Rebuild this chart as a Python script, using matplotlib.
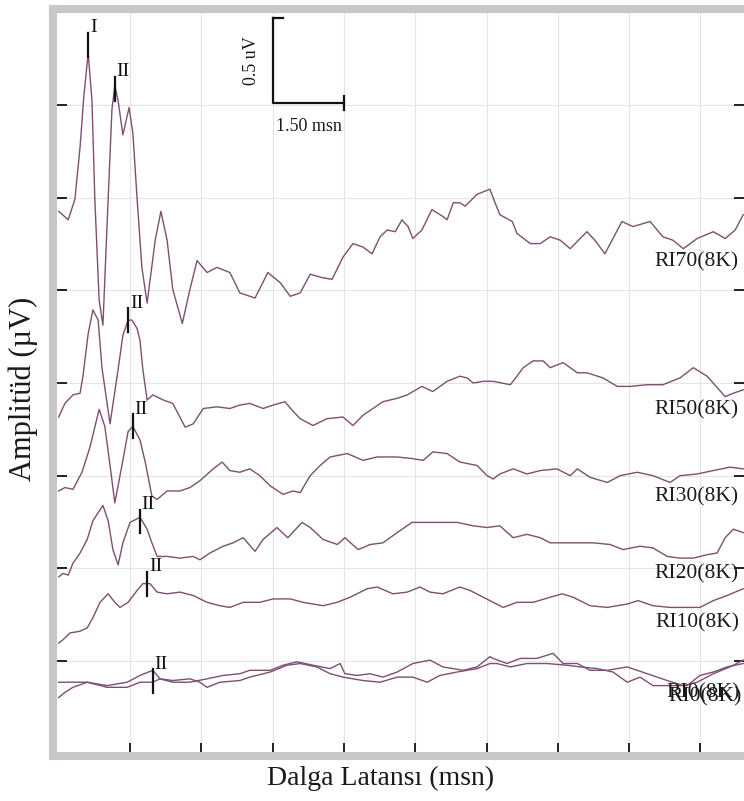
import numpy as np
import matplotlib
matplotlib.use('Agg')
import matplotlib.pyplot as plt

# ABR traces, latency in ms, amplitude in uV relative to each trace baseline
t_ri70 = [0.00, 0.20, 0.34, 0.45, 0.53, 0.62, 0.70, 0.76, 0.85, 0.93, 1.04, 1.12, 1.18, 1.25, 1.35,
          1.48, 1.56, 1.65, 1.75, 1.86, 2.03, 2.15, 2.28, 2.40, 2.60, 2.76, 2.91, 3.12, 3.33, 3.60,
          3.81, 4.13, 4.40, 4.66, 4.87, 5.08, 5.29, 5.54, 5.75, 5.98, 6.19, 6.40, 6.59, 6.76, 6.91,
          7.08, 7.22, 7.35, 7.45, 7.64, 7.85, 8.08, 8.17, 8.30, 8.44, 8.55, 8.80, 9.07, 9.18, 9.28,
          9.54, 9.64, 9.92, 10.13, 10.34, 10.55, 10.76, 11.11, 11.28, 11.49, 11.64, 11.85, 12.08,
          12.44, 12.71, 12.92, 13.14, 13.43, 13.77, 14.02, 14.23, 14.40]
a_ri70 = [-0.08, -0.13, -0.01, 0.30, 0.60, 0.85, 0.57, -0.01, -0.60, -0.75, -0.01, 0.52, 0.66, 0.57, 0.37,
          0.53, 0.38, -0.01, -0.41, -0.62, -0.25, -0.08, -0.25, -0.54, -0.74, -0.54, -0.37, -0.44, -0.41, -0.44,
          -0.56, -0.59, -0.44, -0.50, -0.58, -0.56, -0.45, -0.47, -0.48, -0.35, -0.27, -0.29, -0.33, -0.23, -0.19,
          -0.20, -0.13, -0.17, -0.24, -0.19, -0.07, -0.11, -0.13, -0.03, -0.03, -0.05, 0.02, 0.05, -0.03, -0.10,
          -0.14, -0.21, -0.27, -0.27, -0.23, -0.25, -0.30, -0.20, -0.25, -0.33, -0.25, -0.14, -0.17,
          -0.14, -0.23, -0.25, -0.30, -0.24, -0.20, -0.24, -0.19, -0.10]

t_ri50 = [0.00, 0.13, 0.30, 0.45, 0.51, 0.62, 0.72, 0.83, 0.91, 1.08, 1.25, 1.35, 1.46, 1.54, 1.65,
          1.71, 1.77, 1.86, 1.98, 2.20, 2.40, 2.66, 2.83, 3.04, 3.33, 3.60, 3.81, 4.02, 4.30, 4.51,
          4.76, 4.91, 5.08, 5.35, 5.64, 5.98, 6.19, 6.40, 6.61, 6.82, 7.12, 7.33, 7.64, 7.87, 8.17,
          8.44, 8.59, 8.72, 8.93, 9.14, 9.50, 9.64, 9.77, 9.98, 10.19, 10.34, 10.61, 10.91, 11.11,
          11.45, 11.75, 12.02, 12.38, 12.71, 13.07, 13.35, 13.64, 14.02, 14.19, 14.40]
a_ri50 = [-0.20, -0.12, -0.07, -0.06, 0.04, 0.29, 0.43, 0.37, 0.09, -0.24, 0.08, 0.28, 0.37, 0.37, 0.32,
          0.25, 0.08, -0.10, -0.07, -0.10, -0.12, -0.26, -0.24, -0.15, -0.14, -0.15, -0.13, -0.12, -0.15, -0.13,
          -0.11, -0.16, -0.21, -0.25, -0.21, -0.20, -0.25, -0.19, -0.15, -0.11, -0.09, -0.07, -0.02, -0.05, 0.01,
          0.04, 0.03, 0.00, 0.01, 0.01, -0.01, 0.04, 0.09, 0.13, 0.13, 0.09, 0.12, 0.06, 0.06,
          0.03, -0.02, -0.02, -0.01, -0.01, 0.03, 0.09, 0.04, -0.08, -0.06, -0.04]

t_ri30 = [0.00, 0.13, 0.30, 0.49, 0.66, 0.85, 0.97, 1.08, 1.18, 1.33, 1.46, 1.56, 1.71, 1.82, 1.96,
          2.07, 2.28, 2.55, 2.76, 2.97, 3.25, 3.44, 3.60, 3.81, 4.02, 4.23, 4.45, 4.72, 4.93, 5.08,
          5.29, 5.50, 5.71, 6.07, 6.40, 6.70, 7.12, 7.45, 7.67, 7.87, 8.17, 8.44, 8.80, 9.01, 9.14,
          9.28, 9.56, 9.85, 10.13, 10.48, 10.76, 10.91, 11.18, 11.54, 11.81, 12.17, 12.50, 12.86,
          13.07, 13.43, 13.77, 14.12, 14.40]
a_ri30 = [-0.09, -0.07, -0.08, 0.02, 0.17, 0.39, 0.29, 0.06, -0.16, 0.06, 0.26, 0.29, 0.21, 0.08, -0.12,
          -0.14, -0.09, -0.09, -0.07, -0.03, 0.04, 0.08, 0.03, 0.02, 0.04, 0.00, -0.06, -0.11, -0.09, -0.10,
          0.00, 0.06, 0.11, 0.13, 0.09, 0.11, 0.11, 0.10, 0.09, 0.14, 0.13, 0.08, 0.06, 0.00, -0.02,
          0.01, 0.04, 0.01, 0.03, 0.04, 0.00, 0.04, -0.01, -0.04, 0.00, 0.02, 0.00, -0.04,
          0.00, 0.01, 0.03, 0.05, 0.04]

t_ri20 = [0.00, 0.09, 0.20, 0.30, 0.45, 0.60, 0.72, 0.93, 1.04, 1.14, 1.25, 1.35, 1.50, 1.71, 1.86,
          1.96, 2.07, 2.28, 2.55, 2.83, 2.97, 3.18, 3.46, 3.67, 3.88, 4.13, 4.30, 4.59, 4.82, 5.12,
          5.29, 5.56, 5.86, 6.02, 6.30, 6.55, 6.82, 7.12, 7.43, 7.67, 7.96, 8.38, 8.72, 9.01, 9.28,
          9.56, 9.85, 10.13, 10.34, 10.61, 10.91, 11.24, 11.60, 11.87, 12.23, 12.50, 12.80, 13.07,
          13.35, 13.64, 13.85, 14.02, 14.19, 14.40]
a_ri20 = [-0.05, -0.03, -0.04, 0.03, 0.09, 0.17, 0.28, 0.37, 0.28, 0.11, 0.02, 0.15, 0.27, 0.30, 0.23,
          0.15, 0.07, 0.07, 0.06, 0.07, 0.05, 0.09, 0.13, 0.15, 0.18, 0.10, 0.17, 0.24, 0.18, 0.27,
          0.24, 0.17, 0.14, 0.18, 0.11, 0.14, 0.15, 0.21, 0.27, 0.27, 0.27, 0.27, 0.25, 0.24, 0.25,
          0.18, 0.20, 0.18, 0.15, 0.15, 0.15, 0.15, 0.14, 0.11, 0.13, 0.12, 0.07, 0.06,
          0.06, 0.08, 0.09, 0.18, 0.23, 0.21]

t_ri10 = [0.00, 0.09, 0.24, 0.45, 0.60, 0.72, 0.87, 1.04, 1.18, 1.29, 1.46, 1.65, 1.77, 1.92, 2.07,
          2.28, 2.55, 2.83, 3.12, 3.39, 3.60, 3.88, 4.23, 4.51, 4.87, 5.14, 5.56, 5.86, 6.13, 6.49,
          6.70, 7.03, 7.33, 7.60, 7.81, 8.08, 8.44, 8.65, 8.93, 9.14, 9.35, 9.64, 9.98, 10.34, 10.59,
          10.82, 11.18, 11.54, 11.96, 12.19, 12.50, 12.86, 13.22, 13.49, 13.77, 14.06, 14.40]
a_ri10 = [-0.14, -0.12, -0.08, -0.07, -0.05, 0.01, 0.10, 0.15, 0.10, 0.07, 0.10, 0.17, 0.21, 0.21, 0.16,
          0.15, 0.16, 0.14, 0.10, 0.08, 0.07, 0.10, 0.10, 0.12, 0.12, 0.10, 0.08, 0.10, 0.13, 0.18,
          0.19, 0.15, 0.16, 0.19, 0.16, 0.15, 0.19, 0.17, 0.13, 0.10, 0.07, 0.10, 0.10, 0.13, 0.15,
          0.13, 0.08, 0.07, 0.09, 0.11, 0.08, 0.07, 0.07, 0.07, 0.11, 0.14, 0.18]

# two repeated runs at 0 dB
t_ri0a = [0.00, 0.30, 0.60, 1.02, 1.44, 1.71, 1.98, 2.13, 2.40, 2.76, 2.97, 3.12, 3.39, 3.81, 4.02,
          4.45, 4.80, 5.08, 5.43, 5.71, 5.98, 6.40, 6.76, 7.12, 7.45, 7.75, 8.02, 8.38, 8.80, 9.07,
          9.22, 9.50, 9.85, 10.27, 10.69, 10.97, 11.33, 11.66, 11.96, 12.23, 12.50, 12.86, 13.22,
          13.49, 13.77, 14.06, 14.40]
a_ri0a = [-0.01, -0.01, -0.01, -0.03, -0.01, 0.03, 0.06, 0.01, 0.00, 0.01, -0.01, -0.04, -0.01, 0.00, 0.02,
          0.05, 0.09, 0.10, 0.08, 0.04, 0.02, 0.00, -0.01, 0.02, 0.02, -0.01, 0.03, 0.05, 0.07, 0.10,
          0.10, 0.08, 0.10, 0.10, 0.09, 0.08, 0.07, 0.05, -0.01, 0.02, -0.03, -0.03, -0.03,
          0.03, 0.05, 0.08, 0.10]
t_ri0b = [0.00, 0.13, 0.30, 0.60, 1.02, 1.44, 1.71, 1.98, 2.13, 2.40, 2.76, 3.12, 3.46, 3.81, 4.02,
          4.45, 4.72, 5.01, 5.35, 5.71, 5.92, 6.02, 6.28, 6.55, 6.82, 7.12, 7.45, 7.81, 8.08, 8.51,
          8.80, 9.07, 9.14, 9.43, 9.71, 10.06, 10.40, 10.61, 10.91, 11.18, 11.54, 11.96, 12.38,
          12.80, 13.14, 13.43, 13.77, 14.12, 14.40]
a_ri0b = [-0.10, -0.07, -0.04, -0.01, -0.04, -0.04, -0.01, -0.01, 0.01, -0.01, -0.01, 0.01, 0.03, 0.04, 0.06,
          0.06, 0.09, 0.11, 0.09, 0.07, 0.10, 0.04, 0.03, 0.04, 0.02, 0.05, 0.10, 0.12, 0.08, 0.06,
          0.08, 0.14, 0.13, 0.10, 0.13, 0.13, 0.16, 0.10, 0.10, 0.06, 0.06, 0.08, 0.04,
          0.00, -0.03, -0.01, 0.04, 0.08, 0.12]

traces = [(t_ri70, a_ri70), (t_ri50, a_ri50), (t_ri30, a_ri30), (t_ri20, a_ri20),
          (t_ri10, a_ri10), (t_ri0a, a_ri0a), (t_ri0b, a_ri0b)]
names = ['RI70(8K)', 'RI50(8K)', 'RI30(8K)', 'RI20(8K)', 'RI10(8K)', 'RI0(8K)', 'RI0(8K)']

# wave latencies (ms): wave I only marked on the loudest trace
wave_I_ri70 = 0.62
wave_II = [1.18, 1.46, 1.56, 1.71, 1.86, 1.98]

# layout
grid_step = 0.545
offsets = [6 * grid_step, 4 * grid_step, 3 * grid_step, 2 * grid_step, 0.79, 0.43, 0.43]
name_y = [2.89, 2.02, 1.51, 1.06, 0.77, 0.36, 0.335]
name_x = [14.31, 14.31, 14.31, 14.31, 14.31, 14.33, 14.36]
marker_shift = [-0.02, 0.0, 0.0, -0.025, 0.0, -0.065]
trace_color = '#7e4f70'
frame_grey = '#c8c8c8'
serif = ['Liberation Serif', 'DejaVu Serif']

fig = plt.figure(figsize=(7.44, 8.01), dpi=100)
ax = fig.add_axes([53 / 744, 45 / 801, 695 / 744, 747 / 801])
ax.set_xlim(-0.12, 14.50)
ax.set_ylim(-0.014, 4.38)

ax.set_xticks(np.arange(1.5, 14.0, 1.5))
ax.set_yticks(np.arange(1, 9) * grid_step)
ax.grid(True, color='#e4e4e4', lw=0.8)
ax.set_axisbelow(True)
ax.tick_params(axis='both', which='both', direction='in', labelbottom=False, labelleft=False,
               color='#222222', width=1.4)
ax.tick_params(axis='x', length=9.5)
ax.tick_params(axis='y', length=10, right=True)
for side in ['left', 'top', 'bottom']:
    ax.spines[side].set_color(frame_grey)
    ax.spines[side].set_linewidth(5.8)
ax.spines['right'].set_visible(False)

for (t, a), off in zip(traces, offsets):
    ax.plot(t, np.array(a) + off, color=trace_color, lw=1.0, zorder=3)

for name, x, y in zip(names, name_x, name_y):
    ax.text(x, y, name, ha='right', va='center', fontsize=15.5, family=serif, color='#1a1a1a', zorder=4)

# peak markers
def mark_peak(t_peak, t, a, off, label, shift=0.0, below=0.07, above=0.07):
    y = np.interp(t_peak, t, a) + off + shift
    ax.plot([t_peak, t_peak], [y - below, y + above], color='#111111', lw=1.6, zorder=5)
    ax.annotate(label, (t_peak, y + above), xytext=(1.2, 0.5), textcoords='offset points',
                ha='left', va='baseline', fontsize=14, family=serif, color='#111111', zorder=5)

mark_peak(wave_I_ri70, t_ri70, a_ri70, offsets[0], 'I', below=0.02, above=0.12)
for (t, a), off, tp, sh in zip(traces[:6], offsets[:6], wave_II, marker_shift):
    mark_peak(tp, t, a, off, 'II', shift=sh)

# calibration bar
bar_x, bar_y = 4.51, 3.827
bar_t, bar_v = 1.50, 0.5
ax.plot([bar_x, bar_x, bar_x + bar_t], [bar_y + bar_v, bar_y, bar_y], color='#111111', lw=1.6, zorder=5)
ax.plot([bar_x, bar_x + 0.21], [bar_y + bar_v, bar_y + bar_v], color='#111111', lw=1.6, zorder=5)
ax.plot([bar_x + bar_t, bar_x + bar_t], [bar_y - 0.04, bar_y + 0.04], color='#111111', lw=1.6, zorder=5)
ax.text(bar_x - 0.45, bar_y + bar_v / 2, '0.5 uV', rotation=90, ha='center', va='center',
        fontsize=13, family=serif, color='#1a1a1a')
ax.text(bar_x + bar_t / 2, bar_y - 0.14, '1.50 msn', ha='center', va='center',
        fontsize=13, family=serif, color='#1a1a1a')

fig.text(381 / 744, 1 - 778 / 801, 'Dalga Latansı (msn)', ha='center', va='center',
         fontsize=20, family=serif, color='#1a1a1a')
fig.text(23 / 744, 1 - 389 / 801, 'Amplitüd (µV)', rotation=90, ha='center', va='center',
         fontsize=22, family=serif, color='#1a1a1a')

fig.savefig('out.png', dpi=100)
